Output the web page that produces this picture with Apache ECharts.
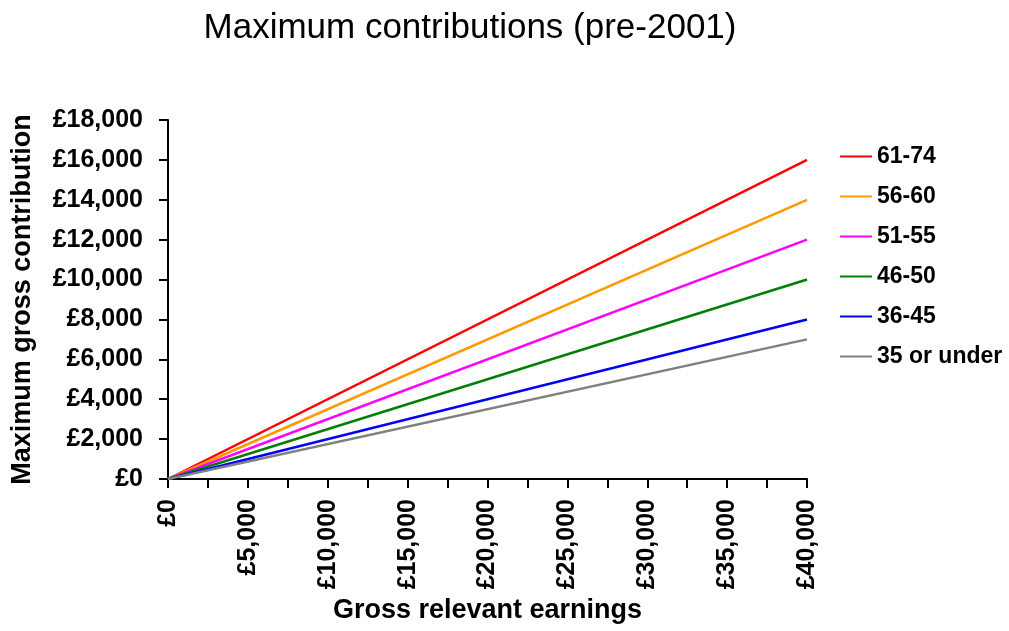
<!DOCTYPE html>
<html>
<head>
<meta charset="utf-8">
<script src="https://cdn.jsdelivr.net/npm/echarts@6/dist/echarts.min.js"></script>
<style>
  html, body { margin: 0; padding: 0; background: #fff; }
  #chart { width: 1009px; height: 631px; }
</style>
</head>
<body>
<div id="chart"></div>
<script>
// earnings points along the x axis (£)
const earnings = [0, 40000]

// maximum gross contribution at each earnings point, by age band
const seriesNames = ['61-74', '56-60', '51-55', '46-50', '36-45', '35 or under']
const age61to74 = [0, 16000]
const age56to60 = [0, 14000]
const age51to55 = [0, 12000]
const age46to50 = [0, 10000]
const age36to45 = [0, 8000]
const age35under = [0, 7000]
const seriesValues = [age61to74, age56to60, age51to55, age46to50, age36to45, age35under]
const seriesColors = ['#ff0000', '#ff9900', '#ff00ff', '#008000', '#0000ff', '#808080']

const font = "'Liberation Sans', Arial, sans-serif"

function money(v) {
  return '£' + v.toLocaleString('en-GB')
}

const chart = echarts.init(document.getElementById('chart'))

chart.setOption({
  animation: false,
  backgroundColor: '#fff',
  title: {
    text: 'Maximum contributions (pre-2001)',
    left: 465,
    textAlign: 'center',
    top: 6,
    textStyle: { fontFamily: font, fontSize: 35, fontWeight: 'normal', color: '#000' }
  },
  grid: { left: 168, right: 202, top: 120, bottom: 152 },
  legend: {
    orient: 'vertical',
    left: 835,
    top: 140,
    icon: 'rect',
    itemWidth: 32,
    itemHeight: 2,
    itemGap: 17,
    data: seriesNames,
    textStyle: { fontFamily: font, fontSize: 23, fontWeight: 'bold', color: '#000' }
  },
  xAxis: {
    type: 'value',
    min: 0,
    max: 40000,
    interval: 2500,
    name: 'Gross relevant earnings',
    nameLocation: 'middle',
    nameGap: 118,
    nameTextStyle: { fontFamily: font, fontSize: 27, fontWeight: 'bold', color: '#000' },
    axisLine: { lineStyle: { color: '#000', width: 2 } },
    axisTick: { length: 9, lineStyle: { color: '#000', width: 2 } },
    splitLine: { show: false },
    axisLabel: {
      rotate: 90,
      margin: 20,
      fontFamily: font,
      fontSize: 25,
      fontWeight: 'bold',
      color: '#000',
      formatter: (v) => (v % 5000 === 0 ? money(v) : '')
    }
  },
  yAxis: {
    type: 'value',
    min: 0,
    max: 18000,
    interval: 2000,
    name: 'Maximum gross contribution',
    nameLocation: 'middle',
    nameGap: 132,
    nameTextStyle: { fontFamily: font, fontSize: 27, fontWeight: 'bold', color: '#000' },
    axisLine: { show: true, lineStyle: { color: '#000', width: 2 } },
    axisTick: { show: true, length: 9, lineStyle: { color: '#000', width: 2 } },
    splitLine: { show: false },
    axisLabel: {
      margin: 25,
      fontFamily: font,
      fontSize: 25,
      fontWeight: 'bold',
      color: '#000',
      formatter: money
    }
  },
  series: seriesNames.map((name, i) => ({
    name,
    type: 'line',
    symbol: 'none',
    data: earnings.map((x, j) => [x, seriesValues[i][j]]),
    lineStyle: { width: 2.5, color: seriesColors[i] },
    itemStyle: { color: seriesColors[i] }
  }))
})
</script>
</body>
</html>
